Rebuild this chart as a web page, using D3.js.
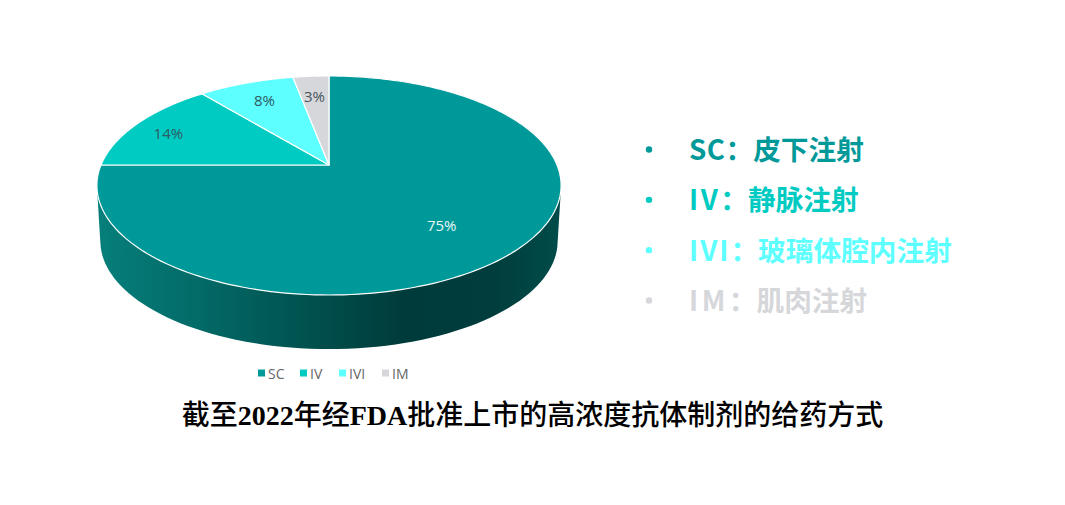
<!DOCTYPE html>
<html>
<head>
<meta charset="utf-8">
<script src="https://cdn.jsdelivr.net/npm/d3@7"></script>
<style>
  html, body { margin: 0; background: #fff; }
  svg { display: block; }
</style>
</head>
<body>
<div id="chart"></div>
<script>
// data
const categories = ["SC", "IV", "IVI", "IM"];
const shares = [75, 14, 8, 3];
const routeNames = ["皮下注射", "静脉注射", "玻璃体腔内注射", "肌肉注射"];
const titleParts = ["截至", "2022", "年经", "FDA", "批准上市的高浓度抗体制剂的给药方式"];

const colors = ["#009999", "#00cbc2", "#5effff", "#d6d7da"];
const labelColors = ["#e8f7f6", "#2e5a63", "#2e5a63", "#44545c"];

// pie plane seen in perspective
const cx = 329, apexY = 165;
const planeW = 228, planeH = 105.7, tilt = 0.187;
const depth = 56;

const width = 1065, height = 505;
const svg = d3.select("#chart").append("svg")
  .attr("width", width)
  .attr("height", height);

// side wall shading
const grad = svg.append("defs").append("linearGradient")
  .attr("id", "wall")
  .attr("gradientUnits", "userSpaceOnUse")
  .attr("x1", 97).attr("x2", 561).attr("y1", 0).attr("y2", 0);
[[0, "#067f7b"], [0.2, "#036c69"], [0.45, "#00524f"], [0.66, "#003b3b"], [0.85, "#003d3c"], [1, "#004c4a"]]
  .forEach(s => grad.append("stop").attr("offset", s[0]).attr("stop-color", s[1]));

// angle (clockwise from top) and radius fraction -> screen
function project(a, r, dy = 0, shrink = 1) {
  const u = Math.sin(a) * r, v = Math.cos(a) * r;
  const k = 1 + tilt * v;
  return [cx + planeW * shrink * u / k, apexY + dy - planeH * shrink * v / k];
}

const pie = d3.pie().sort(null)(shares);
const full = 2 * Math.PI;
const line = d3.line();
const arcPoints = (a0, a1, dy, shrink) =>
  d3.range(0, 181).map(i => project(a0 + (a1 - a0) * i / 180, 1, dy, shrink));

// side wall: bottom rim plus the hull down from the top rim
const topRim = arcPoints(0, full, 0, 1);
const bottomRim = arcPoints(0, full, depth, 0.985);
svg.append("path")
  .attr("d", line(d3.polygonHull(topRim.concat(bottomRim))) + "Z")
  .attr("fill", "url(#wall)");

// top slices
svg.append("g").selectAll("path")
  .data(pie)
  .join("path")
  .attr("d", d => line([[cx, apexY]].concat(arcPoints(d.startAngle, d.endAngle, 0, 1))) + "Z")
  .attr("fill", (d, i) => colors[i])
  .attr("stroke", "#fff")
  .attr("stroke-width", 1.2)
  .attr("stroke-linejoin", "round");

// value labels
const labelRadius = [0.64, 0.83, 0.75, 0.78];
const labelDrop = [8, 3, -1, 3];
svg.append("g").selectAll("text")
  .data(pie)
  .join("text")
  .each(function (d, i) {
    const p = project((d.startAngle + d.endAngle) / 2, labelRadius[i]);
    d3.select(this).attr("x", p[0]).attr("y", p[1] + labelDrop[i]);
  })
  .attr("text-anchor", "middle")
  .attr("dominant-baseline", "central")
  .attr("font-family", "'Open Sans', 'Noto Sans', sans-serif")
  .attr("font-size", 15)
  .attr("fill", (d, i) => labelColors[i])
  .text(d => d.data + "%");

// small legend under the pie
const legendX = d3.scaleOrdinal().domain(categories).range([258, 300, 339, 382]);
const legend = svg.append("g").selectAll("g")
  .data(categories)
  .join("g")
  .attr("transform", d => `translate(${legendX(d)},373)`);
legend.append("rect")
  .attr("x", 0).attr("y", -3.5)
  .attr("width", 7).attr("height", 7)
  .attr("fill", (d, i) => colors[i]);
legend.append("text")
  .attr("x", 10)
  .attr("dominant-baseline", "central")
  .attr("font-family", "'Open Sans', 'Noto Sans', sans-serif")
  .attr("font-size", 14)
  .attr("fill", "#666")
  .text(d => d);

// list on the right
const listY = d3.scalePoint().domain(categories).range([148, 299]);
const latinSpacing = [0.5, 2.5, 2, 3.5]; // latin letters run wider in the original font
const list = svg.append("g").selectAll("g")
  .data(categories)
  .join("g")
  .attr("transform", d => `translate(0,${listY(d)})`)
  .attr("fill", (d, i) => colors[i]);
list.append("circle")
  .attr("cx", 649).attr("cy", 1.5).attr("r", 3.2);
const listText = list.append("text")
  .attr("x", 689)
  .attr("dominant-baseline", "central")
  .attr("font-family", "'Noto Sans CJK SC', sans-serif")
  .attr("font-weight", 700)
  .attr("font-size", 27.7);
listText.append("tspan")
  .attr("letter-spacing", (d, i) => latinSpacing[i])
  .text(d => d);
listText.append("tspan")
  .text((d, i) => "\uFF1A" + routeNames[i]);

// caption
const title = svg.append("text")
  .attr("x", 532.5)
  .attr("y", 425)
  .attr("text-anchor", "middle")
  .attr("font-size", 28)
  .attr("fill", "#000");
title.selectAll("tspan")
  .data(titleParts)
  .join("tspan")
  .attr("font-family", (d, i) => i % 2 ? "'Liberation Serif', serif" : "'Noto Sans CJK SC', sans-serif")
  .attr("font-weight", (d, i) => i % 2 ? 700 : 500)
  .text(d => d);
</script>
</body>
</html>
